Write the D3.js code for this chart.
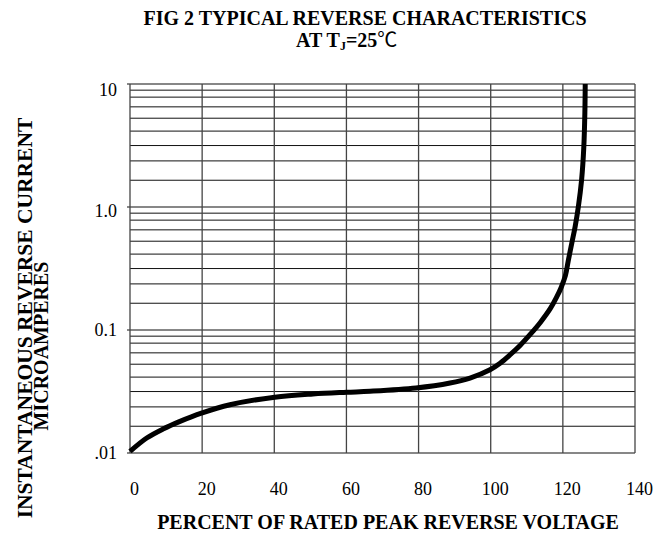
<!DOCTYPE html>
<html>
<head>
<meta charset="utf-8">
<script src="https://cdn.jsdelivr.net/npm/d3@7"></script>
<style>
  body { margin: 0; background: #fff; }
  text { font-family: "Liberation Serif", "Times New Roman", serif; fill: #000; }
</style>
</head>
<body>
<div id="chart"></div>
<script>
// percent of rated peak reverse voltage -> reverse current (uA)
const voltagePct = [0, 4.63, 9.15, 13.86, 19.6, 27.72, 40.12, 50.73, 60.08, 66.54, 79.29, 88.72, 94.26,
  99.8, 102.6, 105.4, 108.2, 111.0, 113.7, 116.5, 118.2, 119.5, 120.7, 121.5, 122.5, 123.4,
  124.3, 125.2, 125.8, 126.1, 126.2];
const currentUA = [0.0103, 0.01324, 0.01567, 0.01807, 0.02099, 0.0247, 0.02843, 0.03018, 0.03116, 0.03175, 0.03377, 0.03708, 0.04071,
  0.04755, 0.05372, 0.06299, 0.07521, 0.09245, 0.1147, 0.149, 0.1831, 0.2207, 0.2764, 0.366, 0.5127, 0.6917,
  1.006, 1.667, 3.034, 5.845, 10];

const xTicks = [0, 20, 40, 60, 80, 100, 120, 140];
const yDecades = [0.01, 0.1, 1, 10];
const yTickLabels = [".01", "0.1", "1.0", "10"];
// minor grid lines inside each decade, as they sit in the source drawing
const minorSteps = [1.65, 2.37, 3.16, 4.14, 5.27, 6.52, 7.82, 8.91];

const W = 654, H = 534;
const margin = { top: 84, right: 19, bottom: 81, left: 130 };
const width = W - margin.left - margin.right;
const height = H - margin.top - margin.bottom;

const root = d3.select("#chart").append("svg")
  .attr("width", W)
  .attr("height", H);

root.append("rect").attr("width", W).attr("height", H).attr("fill", "#fff");

const svg = root.append("g")
  .attr("transform", `translate(${margin.left},${margin.top})`);

const x = d3.scaleLinear().domain([0, 140]).range([0, width]);
const y = d3.scaleLog().domain([0.01, 10]).range([height, 0]);

const minorLines = [];
yDecades.slice(0, 3).forEach(d => minorSteps.forEach(m => minorLines.push(d * m)));

// grid
svg.append("g").selectAll("line")
  .data(minorLines)
  .enter().append("line")
  .attr("x1", 0).attr("x2", width)
  .attr("y1", d => y(d)).attr("y2", d => y(d))
  .attr("stroke", "#111").attr("stroke-width", 1);

svg.append("g").selectAll("line")
  .data(yDecades)
  .enter().append("line")
  .attr("x1", -3).attr("x2", width)
  .attr("y1", d => y(d)).attr("y2", d => y(d))
  .attr("stroke", "#111").attr("stroke-width", 1.2);

svg.append("g").selectAll("line")
  .data(xTicks)
  .enter().append("line")
  .attr("x1", d => x(d)).attr("x2", d => x(d))
  .attr("y1", 0).attr("y2", height)
  .attr("stroke", "#444").attr("stroke-width", 1.3);

// axes labels
const xAxis = svg.append("g")
  .attr("transform", `translate(0,${height})`)
  .call(d3.axisBottom(x).tickValues(xTicks).tickSize(0).tickPadding(29).tickFormat(d3.format("d")));
xAxis.select(".domain").remove();
xAxis.selectAll("text").attr("font-size", 18).attr("dx", 4)
  .attr("font-family", "'Liberation Serif', serif");

const yAxis = svg.append("g")
  .call(d3.axisLeft(y).tickValues(yDecades).tickSize(0).tickPadding(13)
    .tickFormat((d, i) => yTickLabels[i]));
yAxis.select(".domain").remove();
yAxis.selectAll("text").attr("font-size", 18)
  .attr("font-family", "'Liberation Serif', serif")
  .attr("dy", d => d === 10 ? "0.65em" : d === 1 ? "0.5em" : "0.32em");

// curve
const line = d3.line()
  .x((d, i) => x(voltagePct[i]))
  .y(d => y(d))
  .curve(d3.curveCatmullRom.alpha(0.5));

svg.append("path")
  .datum(currentUA)
  .attr("d", line)
  .attr("fill", "none")
  .attr("stroke", "#000")
  .attr("stroke-width", 5);

// titles
root.append("text")
  .attr("x", 365).attr("y", 25)
  .attr("text-anchor", "middle")
  .attr("font-size", 20).attr("font-weight", "bold")
  .text("FIG 2 TYPICAL REVERSE CHARACTERISTICS");

const sub = root.append("text")
  .attr("x", 296).attr("y", 47)
  .attr("font-size", 20).attr("font-weight", "bold");
sub.append("tspan").text("AT T");
sub.append("tspan").attr("font-size", 12).attr("dy", 3).text("J");
sub.append("tspan").attr("dy", -3).text("=25");
sub.append("tspan").attr("font-family", "'Noto Sans CJK SC', sans-serif").attr("font-weight", "normal").text("℃");

root.append("text")
  .attr("x", 388).attr("y", 529)
  .attr("text-anchor", "middle")
  .attr("font-size", 20).attr("font-weight", "bold")
  .text("PERCENT OF RATED PEAK REVERSE VOLTAGE");

root.append("text")
  .attr("transform", "translate(32,318) rotate(-90)")
  .attr("text-anchor", "middle")
  .attr("font-size", 21.5).attr("font-weight", "bold")
  .text("INSTANTANEOUS REVERSE CURRENT");

root.append("text")
  .attr("transform", "translate(48,346) rotate(-90)")
  .attr("text-anchor", "middle")
  .attr("font-size", 20).attr("font-weight", "bold")
  .text("MICROAMPERES");
</script>
</body>
</html>
